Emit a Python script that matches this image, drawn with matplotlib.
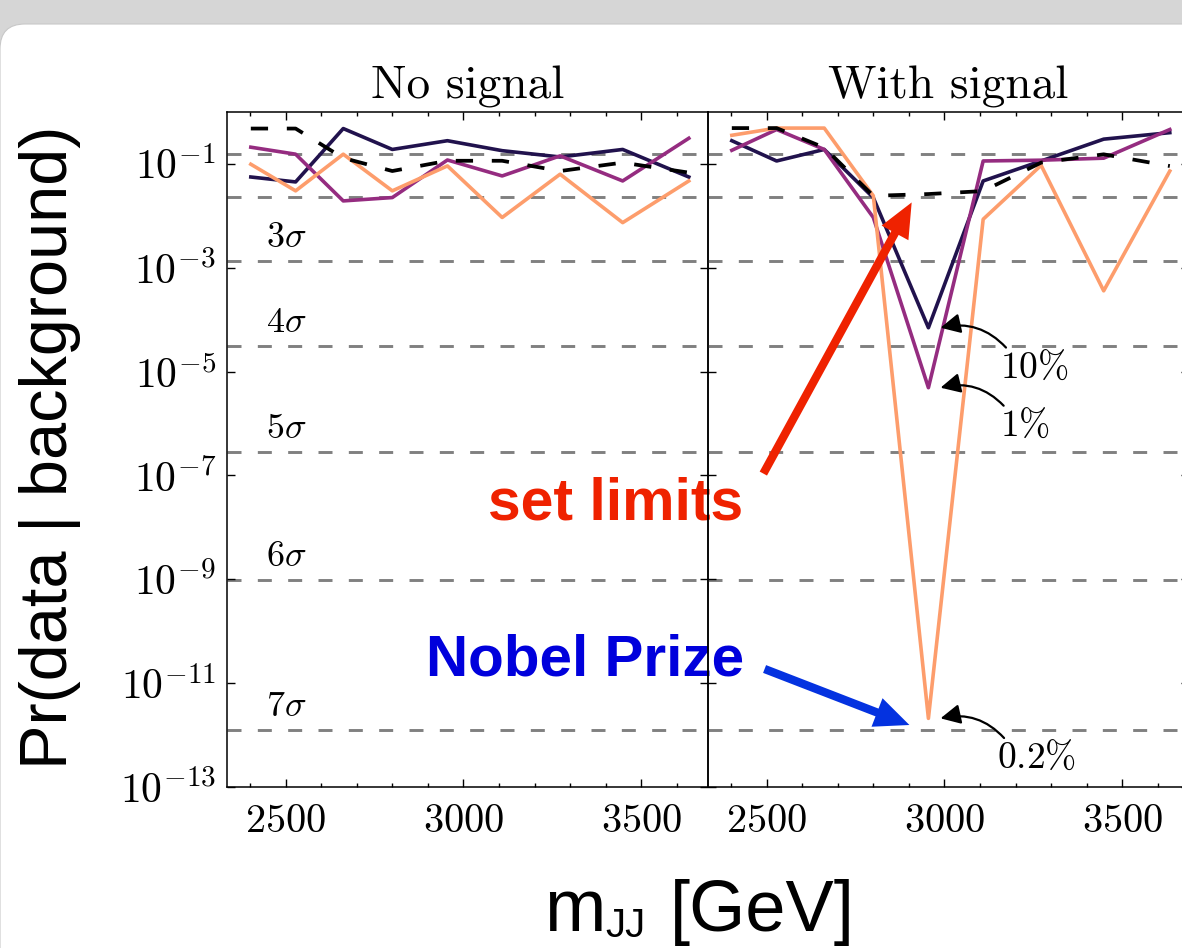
import numpy as np
import matplotlib
matplotlib.use('Agg')
import matplotlib.pyplot as plt
from matplotlib.patches import FancyBboxPatch, FancyArrowPatch
from matplotlib.colors import LinearSegmentedColormap
from matplotlib.ticker import FixedLocator, FixedFormatter, MultipleLocator, NullLocator

plt.rcParams['mathtext.fontset'] = 'cm'
plt.rcParams['font.family'] = ['cmr10', 'DejaVu Serif']
plt.rcParams['axes.unicode_minus'] = False

# ---------------- data ----------------
mjj_bins = [2402, 2528, 2662, 2800, 2955, 3109, 3272, 3448, 3634]

# "No signal" panel
nosig_10pct = [0.056, 0.045, 0.48, 0.19, 0.28, 0.18, 0.136, 0.19, 0.056]
nosig_1pct = [0.21, 0.154, 0.0194, 0.0225, 0.119, 0.0587, 0.143, 0.047, 0.312]
nosig_02pct = [0.0986, 0.0303, 0.154, 0.0303, 0.0916, 0.0093, 0.0634, 0.0074, 0.047]
nosig_ref = [0.48, 0.48, 0.13, 0.073, 0.115, 0.115, 0.073, 0.106, 0.068]

# "With signal" panel
sig_10pct = [0.28, 0.114, 0.19, 0.0224, 7.0e-5, 0.047, 0.114, 0.30, 0.40]
sig_1pct = [0.183, 0.46, 0.19, 0.0093, 4.9e-6, 0.114, 0.118, 0.129, 0.46]
sig_02pct = [0.356, 0.49, 0.49, 0.0243, 2.1e-12, 0.0086, 0.094, 3.6e-4, 0.073]
sig_ref = [0.49, 0.49, 0.206, 0.0243, 0.0263, 0.030, 0.106, 0.153, 0.091]

sigma_levels = [1, 2, 3, 4, 5, 6, 7]
sigma_pvalues = [0.1587, 0.02275, 1.35e-3, 3.17e-5, 2.87e-7, 9.87e-10, 1.28e-12]
sigma_labels = ['', '', r'$3\sigma$', r'$4\sigma$', r'$5\sigma$', r'$6\sigma$', r'$7\sigma$']

ytick_exps = [-13, -11, -9, -7, -5, -3, -1]
xticks = [2500, 3000, 3500]
panel_titles = ['No signal', 'With signal']
frac_labels = [r'$10\%$', r'$1\%$', r'$0.2\%$']

# ---------------- style ----------------
c_dark = '#21124d'
c_purple = '#952c80'
c_orange = '#fd9d6c'
c_gray = '#808080'

W, H = 1182, 948
fig = plt.figure(figsize=(W / 100, H / 100), dpi=100)


def fx(x):
    return x / W


def fy(y):
    return 1 - y / H


def pxbox(x0, y0, x1, y1):
    return [x0 / W, 1 - y1 / H, (x1 - x0) / W, (y1 - y0) / H]


# slide background
bg = fig.add_axes([0, 0, 1, 1], zorder=-10)
grad = np.linspace(0, 1, 256)[:, None]
bg.imshow(grad, cmap=LinearSegmentedColormap.from_list('g', ['#d6d6d6', '#f0f0f0']),
          aspect='auto', extent=[0, 1, 0, 1])
bg.set_axis_off()
card = FancyBboxPatch((0.0, -0.5), 12.6, (H - 24) / 100 + 0.5,
                      boxstyle='round,pad=0,rounding_size=0.25',
                      transform=fig.dpi_scale_trans, fc='white', ec='#c8c8c8',
                      lw=0.8, zorder=-5)
fig.add_artist(card)

axL = fig.add_axes(pxbox(227, 112, 708, 787))
axR = fig.add_axes(pxbox(708, 112, 1189, 787))

panels = [
    (axL, nosig_10pct, nosig_1pct, nosig_02pct, nosig_ref),
    (axR, sig_10pct, sig_1pct, sig_02pct, sig_ref),
]

for i, (ax, s10, s1, s02, ref) in enumerate(panels):
    ax.set_facecolor('none')
    ax.set_yscale('log')
    for p in sigma_pvalues:
        ax.axhline(p, color=c_gray, lw=2.1, ls=(0, (4.8, 5.6)), zorder=1)
    ax.plot(mjj_bins, s10, color=c_dark, lw=2.6, zorder=3)
    ax.plot(mjj_bins, s1, color=c_purple, lw=2.6, zorder=3)
    ax.plot(mjj_bins, s02, color=c_orange, lw=2.6, zorder=3)
    ax.plot(mjj_bins, ref, color='black', lw=2.7, ls=(0, (4.6, 5.0)), zorder=4)
    ax.set_xlim(2335, 3688)
    ax.set_ylim(1e-13, 1)
    ax.yaxis.set_major_locator(FixedLocator([10.0 ** e for e in ytick_exps]))
    ax.yaxis.set_minor_locator(NullLocator())
    ax.xaxis.set_major_locator(FixedLocator(xticks))
    ax.xaxis.set_major_formatter(FixedFormatter([r'$%d$' % t for t in xticks]))
    ax.xaxis.set_minor_locator(MultipleLocator(100))
    ax.tick_params(which='both', direction='in', top=True, right=True, width=1.0)
    ax.tick_params(which='major', length=6)
    ax.tick_params(which='minor', length=3)
    ax.tick_params(axis='x', labelsize=29, pad=12)
    ax.tick_params(axis='y', labelsize=30, pad=8)
    for sp in ax.spines.values():
        sp.set_linewidth(1.1)
    ax.set_title(panel_titles[i], fontsize=34, pad=10)
    if i == 0:
        ax.yaxis.set_major_formatter(
            FixedFormatter([r'$10^{%d}$' % e for e in ytick_exps]))
        for p, lab in zip(sigma_pvalues, sigma_labels):
            if lab:
                ax.text(2445, p * 10 ** 0.13, lab, fontsize=26, va='bottom', ha='left')
    else:
        ax.tick_params(axis='y', labelleft=False)

# fraction annotations on the "With signal" panel
minima = [sig_10pct[4], sig_1pct[4], sig_02pct[4]]
text_pos = [(3157, 10 ** -4.92), (3157, 10 ** -6.04), (3148, 10 ** -12.44)]
for lab, m, (tx, ty) in zip(frac_labels, minima, text_pos):
    axR.annotate(lab, xy=(mjj_bins[4] + 34, m), xytext=(tx, ty),
                 fontsize=27, ha='left', va='center',
                 arrowprops=dict(arrowstyle='-|>', connectionstyle='arc3,rad=0.3',
                                 color='black', lw=1.6, mutation_scale=30,
                                 relpos=(0.12, 1.0), shrinkA=0, shrinkB=0))

# slide annotations
c_red = '#ef2200'
c_blue_t = '#0000dc'
c_blue_a = '#0432e0'
fig.text(fx(488), fy(519), 'set limits', fontsize=42.5, fontweight='bold',
         family='Liberation Sans', color=c_red, va='baseline', ha='left', zorder=-1)
fig.text(fx(426), fy(676), 'Nobel Prize', fontsize=42, fontweight='bold',
         family='Liberation Sans', color=c_blue_t, va='baseline', ha='left', zorder=-1)
arrow_style = 'simple,head_length=2.5,head_width=2.2,tail_width=0.6'
fig.add_artist(FancyArrowPatch((fx(762), fy(476)), (fx(913), fy(200)),
                               transform=fig.transFigure, arrowstyle=arrow_style,
                               mutation_scale=10, color=c_red, lw=0, zorder=6))
fig.add_artist(FancyArrowPatch((fx(762), fy(668)), (fx(912), fy(726)),
                               transform=fig.transFigure, arrowstyle=arrow_style,
                               mutation_scale=10, color=c_blue_a, lw=0, zorder=6))

# axis labels (slide style)
fig.text(fx(50), fy(447), 'Pr(data | background)', rotation=90, fontsize=48,
         family='Liberation Sans', ha='center', va='center')
fig.text(fx(544), fy(931), 'm', fontsize=53, family='Liberation Sans',
         ha='left', va='baseline')
fig.text(fx(605), fy(937), 'JJ', fontsize=29, family='Liberation Sans',
         ha='left', va='baseline')
fig.text(fx(670), fy(931), '[GeV]', fontsize=52, family='Liberation Sans',
         ha='left', va='baseline')

fig.savefig('out.png', dpi=100)
